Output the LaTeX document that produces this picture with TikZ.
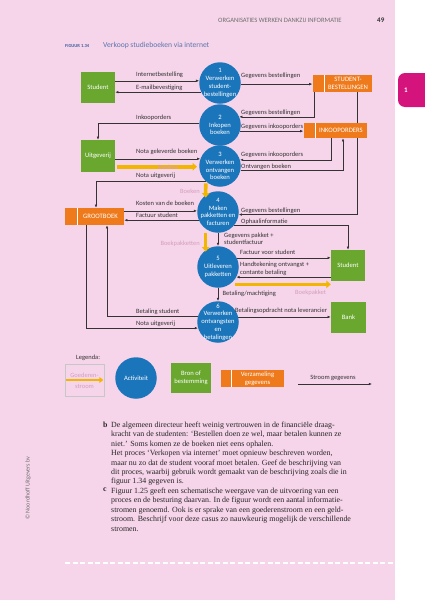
\documentclass[tikz,border=0pt]{standalone}
\usepackage{fontspec}
\usetikzlibrary{positioning,arrows.meta}

\newfontfamily\diafont{Carlito}
\newfontfamily\bodyfont{Liberation Serif}

\definecolor{pagepink}{HTML}{F6D5EA}
\definecolor{tabmagenta}{HTML}{D4147C}
\definecolor{actblue}{HTML}{1B75BB}
\definecolor{srcgreen}{HTML}{6AA72F}
\definecolor{storeorange}{HTML}{EE7A1C}
\definecolor{goodsyellow}{HTML}{F2B600}
\definecolor{goodstext}{HTML}{D49FBA}
\definecolor{linegray}{HTML}{333333}
\definecolor{headgray}{HTML}{6E6E6E}
\definecolor{capblue}{HTML}{3E5C9E}

\pgfdeclarelayer{paper}
\pgfdeclarelayer{back}
\pgfsetlayers{paper,back,main}

\begin{document}
\begin{tikzpicture}[x=1pt,y=-1pt,>={Latex[length=3.2pt,width=2.6pt]}]

% --- Styles ---
\tikzset{
    activity/.style={
        circle,
        fill=actblue,
        minimum size=41.5pt,
        inner sep=0pt,
        label={[acttext]center:#1}
    },
    acttext/.style={
        text=white,
        inner sep=0pt,
        align=center,
        font=\diafont\fontsize{6.6}{7.8}\selectfont
    },
    sourcebox/.style={
        fill=srcgreen,
        text=white,
        minimum width=34pt,
        minimum height=31pt,
        inner sep=1pt,
        align=center,
        font=\diafont\fontsize{6.6}{8}\selectfont
    },
    datastore/.style={
        fill=storeorange,
        text=white,
        minimum height=17pt,
        inner sep=1pt,
        align=center,
        font=\diafont\fontsize{6.7}{8}\selectfont,
        path picture={
            \draw[white,line width=1.6pt]
                (path picture bounding box.north west) --
                (path picture bounding box.south west);
        }
    },
    storetab/.style={
        fill=storeorange,
        minimum height=17pt,
        inner sep=0pt
    },
    legendbox/.style={
        draw=black!22,
        line width=0.5pt,
        minimum width=39pt,
        minimum height=32pt,
        inner sep=0pt
    },
    flow/.style={
        ->,
        draw=linegray,
        line width=0.6pt
    },
    goods/.style={
        draw=goodsyellow,
        line width=3.6pt,
        -{Triangle[length=4.5pt,width=7.5pt]}
    },
    lbl/.style={
        anchor=base west,
        inner sep=0pt,
        align=left,
        text=linegray,
        font=\diafont\fontsize{6.5}{7.5}\selectfont
    },
    goodslbl/.style={
        inner sep=0pt,
        text=goodstext,
        font=\diafont\fontsize{6.5}{7.5}\selectfont
    },
    bodytext/.style={
        anchor=north west,
        inner sep=0pt,
        align=left,
        text=black!85,
        font=\bodyfont\fontsize{7.9}{9.45}\selectfont
    },
    itemmark/.style={
        anchor=north west,
        inner sep=0pt,
        text=black!85,
        font=\bodyfont\bfseries\fontsize{7.9}{9.45}\selectfont
    }
}

% ==================================================
% --- Page ---
% ==================================================

\useasboundingbox (0,0) rectangle (425,600);
\begin{pgfonlayer}{paper}
    \fill[pagepink] (0,0) rectangle (395,600);
    \begin{scope}
        \clip (0,0) rectangle (425,600);
        \fill[tabmagenta, rounded corners=7pt] (398,73) rectangle (440,107);
    \end{scope}
\end{pgfonlayer}
\node[text=white, font=\diafont\bfseries\fontsize{7}{8}\selectfont] (tabnum) at (406,90) {1};

\node[anchor=base west, inner sep=0pt, text=headgray,
      font=\diafont\fontsize{6.6}{7}\selectfont] (runhead) at (218,22.5)
    {ORGANISATIES WERKEN DANKZIJ INFORMATIE};
\node[anchor=base west, inner sep=0pt, text=black!80,
      font=\diafont\bfseries\fontsize{7}{8}\selectfont] (pagenum) at (377,22.5) {49};

\node[anchor=base west, inner sep=0pt, text=capblue,
      font=\diafont\bfseries\fontsize{4.6}{5}\selectfont] (figno) at (65,47) {FIGUUR 1.34};
\node[anchor=base west, inner sep=0pt, text=capblue!85,
      font=\diafont\fontsize{7.6}{8}\selectfont] (figtitle) at (103,47) {Verkoop studieboeken via internet};

% ==================================================
% --- Activities ---
% ==================================================

\node[activity={1\\Verwerken\\student-\\bestellingen}] (p1) at (220,83) {};
\node[activity={2\\Inkopen\\boeken}] (p2) at (220,125) {};
\node[activity={3\\Verwerken\\ontvangen\\boeken}] (p3) at (220,166) {};
\node[activity={4\\Maken\\pakketten en\\facturen}] (p4) at (218,212) {};
\node[activity={5\\Uitleveren\\pakketten}] (p5) at (218,267) {};
\node[activity={6\\Verwerken\\ontvangsten\\en\\betalingen}] (p6) at (218,322) {};

% ==================================================
% --- Sources and stores ---
% ==================================================

\node[sourcebox] (student) at (98,87.5) {Student};
\node[sourcebox, minimum height=32pt] (uit) at (98,156) {Uitgeverij};
\node[sourcebox] (student2) at (348,265.5) {Student};
\node[sourcebox, minimum width=35pt] (bank) at (348.5,317.5) {Bank};

\node[datastore, minimum width=48pt] (sb) at (348,83.5) {STUDENT-\\BESTELLINGEN};
\node[storetab, minimum width=11pt, left=0pt of sb] (sbtab) {};

\node[datastore, minimum width=52pt, minimum height=15pt] (io) at (341,130.5) {INKOOPORDERS};
\node[storetab, minimum width=11pt, minimum height=15pt, left=0pt of io] (iotab) {};

\node[datastore, minimum width=47pt] (gb) at (100.5,216.5) {GROOTBOEK};
\node[storetab, minimum width=12pt, left=0pt of gb] (gbtab) {};

% ==================================================
% --- Data flows (behind the boxes) ---
% ==================================================

\begin{pgfonlayer}{back}
    \draw[flow] (p1.174 -| student.east) -- (p1.174);
    \draw[flow] (p1.206) -- (p1.206 -| student.east);
    \draw[flow] (p1.357) -- (p1.357 -| sbtab.west);
    \draw[flow] ([xshift=1.5pt]sbtab.south west) |- (p2.23);
    \draw[flow] ([xshift=9pt]sb.south) |- (p4.353);

    \draw[flow] (p2.174) -| (uit.north);
    \draw[flow] (p2.343) -- (p2.343 -| iotab.west);
    \draw[flow] ([xshift=-10pt]io.south) |- (p3.17);
    \draw[flow] (p3.349) -| ([xshift=2pt]io.south);

    \draw[flow] (p3.160 -| uit.east) -- (p3.160);
    \draw[flow] (p3.227) -| ([xshift=-4.5pt]gb.north);

    \draw[flow] (p4.177 -| gb.east) -- (p4.177);
    \draw[flow] (p4.203) -- (p4.203 -| gb.east);
    \draw[flow] (p4) -- (p5);
    \draw[flow] (p4.319) -| (student2.north);

    \draw[flow] (p5.26) -- (p5.26 -| student2.west);
    \draw[flow] (p5.331 -| student2.west) -- (p5.331);
    \draw[flow] (p5) -- (p6);

    \draw[flow] (p6.163) -| ([xshift=6.5pt]gb.south);
    \draw[flow] ([xshift=-14.5pt]gb.south) |- (p6.197);
    \draw[flow] (p6.14) -- (p6.14 -| bank.west);
\end{pgfonlayer}

% --- Goods flows ---
\draw[goods, shorten <=2pt, shorten >=2pt] (p3.182 -| uit.east) -- (p3.182);
\draw[goods, shorten <=2pt, shorten >=-2.5pt] (p3.227) -- (p4.126);
\draw[goods, shorten <=4pt, shorten >=-1.5pt] (p4.234) -- (p5.126);
\draw[goods, shorten <=5.5pt] (p5.304) -- (p5.304 -| student2.west);

% ==================================================
% --- Flow labels ---
% ==================================================

\node[lbl] at (136,76.5) {Internetbestelling};
\node[lbl] at (136,89) {E-mailbevestiging};
\node[lbl] at (136,119) {Inkooporders};
\node[lbl] at (136,153) {Nota geleverde boeken};
\node[lbl] at (136,177.5) {Nota uitgeverij};
\node[lbl] at (136,205.5) {Kosten van de boeken};
\node[lbl] at (136,217.5) {Factuur student};
\node[lbl] at (136,313.8) {Betaling student};
\node[lbl] at (136,325.5) {Nota uitgeverij};

\node[lbl] at (241,77.5) {Gegevens bestellingen};
\node[lbl] at (241,114) {Gegevens bestellingen};
\node[lbl] at (241,128.8) {Gegevens inkooporders};
\node[lbl] at (241,156.5) {Gegevens inkooporders};
\node[lbl] at (241,168.3) {Ontvangen boeken};
\node[lbl] at (241,212.3) {Gegevens bestellingen};
\node[lbl] at (241,223.3) {Ophaalinformatie};
\node[lbl, anchor=north west, font=\diafont\fontsize{6.5}{6.6}\selectfont] at (224,233.2)
    {Gegevens pakket +\\studentfactuur};
\node[lbl] at (240,254) {Factuur voor student};
\node[lbl, anchor=north west, font=\diafont\fontsize{6.5}{8}\selectfont] at (240,261.6)
    {Handtekening ontvangst +\\contante betaling};
\node[lbl] at (222.5,295.5) {Betaling/machtiging};
\node[lbl] at (235,312.3) {Betalingsopdracht nota leverancier};

\node[goodslbl] at (168,167) {Boeken};
\node[goodslbl, anchor=base east] at (200,193.3) {Boeken};
\node[goodslbl, anchor=base east] at (200,245) {Boekpakketten};
\node[goodslbl, anchor=base west] at (295,294.3) {Boekpakket};

% ==================================================
% --- Legend ---
% ==================================================

\node[lbl] (legendtitle) at (76,359) {Legenda:};

\node[legendbox] (lgoods) at (84.5,380) {};
\draw[goods, line width=2.8pt, -{Triangle[length=4pt,width=6pt]}]
    ([xshift=1.5pt]lgoods.west) -- ([xshift=-1pt]lgoods.east);
\node[goodslbl, anchor=base] at (84.5,377.3) {Goederen-};
\node[goodslbl, anchor=base] at (84.5,388) {stroom};

\node[activity={Activiteit}] (lact) at (136,378) {};
\node[sourcebox, minimum width=40pt, minimum height=30pt] (lsrc) at (191,378) {Bron of\\bestemming};
\node[datastore, minimum width=53pt] (lstore) at (257.5,378.5) {Verzameling\\gegevens};
\node[storetab, minimum width=10pt, left=0pt of lstore] (lstoretab) {};

\coordinate (lflowa) at (298,384);
\coordinate (lflowb) at (372,384);
\draw[flow] (lflowa) -- (lflowb);
\node[lbl, anchor=base] at (333,379.5) {Stroom gegevens};

% ==================================================
% --- Questions ---
% ==================================================

\node[itemmark] (markb) at (103,421.5) {b};
\node[bodytext] (itemb) at (111,421.5)
    {De algemeen directeur heeft weinig vertrouwen in de financiële draag-\\
     kracht van de studenten: ‘Bestellen doen ze wel, maar betalen kunnen ze\\
     niet.’ Soms komen ze de boeken niet eens ophalen.\\
     Het proces ‘Verkopen via internet’ moet opnieuw beschreven worden,\\
     maar nu zo dat de student vooraf moet betalen. Geef de beschrijving van\\
     dit proces, waarbij gebruik wordt gemaakt van de beschrijving zoals die in\\
     figuur 1.34 gegeven is.};

\node[itemmark] (markc) at (103,487.7) {c};
\node[bodytext] (itemc) at (111,487.7)
    {Figuur 1.25 geeft een schematische weergave van de uitvoering van een\\
     proces en de besturing daarvan. In de figuur wordt een aantal informatie-\\
     stromen genoemd. Ook is er sprake van een goederenstroom en een geld-\\
     stroom. Beschrijf voor deze casus zo nauwkeurig mogelijk de verschillende\\
     stromen.};

\node[rotate=90, text=headgray, font=\diafont\fontsize{6}{7}\selectfont] (copyright) at (28,488)
    {© Noordhoff Uitgevers bv};

\draw[white, line width=1.2pt, dash pattern=on 5pt off 2.5pt] (65,563) -- (395,563);

\end{tikzpicture}
\end{document}
